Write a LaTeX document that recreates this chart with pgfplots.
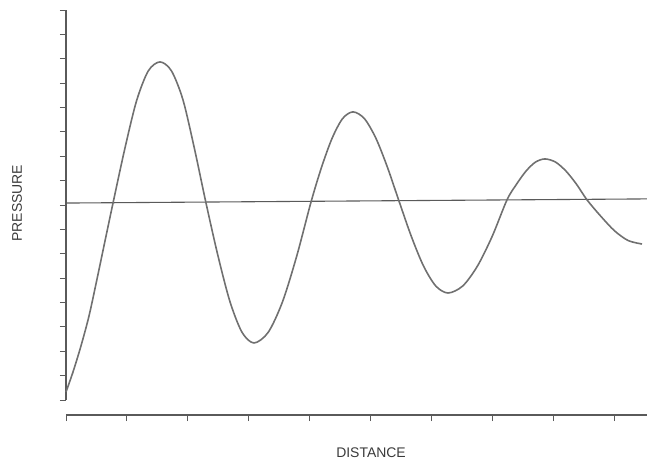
\documentclass[border=0pt]{standalone}
\usepackage{fontspec}
\setmainfont{Liberation Sans}
\usepackage{pgfplots}
\pgfplotsset{compat=1.18}

\definecolor{curve}{HTML}{707070}
\definecolor{axisgray}{HTML}{5A5A5A}
\definecolor{textgray}{HTML}{3A3A3A}

\begin{document}
\begin{tikzpicture}
% page frame: axis box sits 66bp from the left and 49bp above the bottom
\path[use as bounding box] (-66bp,-49bp) rectangle (581bp,415bp);
\begin{axis}[
    scale only axis,
    width=581bp, height=405bp,
    xmin=0, xmax=9.54,
    ymin=-8.615, ymax=8.0,
    axis x line=bottom,
    axis y line=left,
    x axis line style={-, axisgray, line width=1.1pt},
    y axis line style={-, axisgray, line width=1.1pt, shorten <=15bp},
    xtick={0,1,...,9},
    ytick={-8,-7,...,8},
    xticklabels={}, yticklabels={},
    tick align=outside,
    major tick length=6bp,
    tick style={axisgray, line width=0.9pt},
    xlabel={DISTANCE},
    ylabel={PRESSURE},
    every axis x label/.style={at={(axis description cs:0.525,-0.094)}, anchor=center},
    every axis y label/.style={at={(axis description cs:-0.084,0.523)}, anchor=center, rotate=90},
    label style={font=\fontsize{14}{16}\selectfont, text=textgray},
    clip=false,
]
% zero line
\addplot[axisgray, line width=1.1pt] coordinates {(0,0.08) (9.54,0.25)};

% damped pressure wave
\addplot[curve, line width=1.6pt, smooth] coordinates {
    (0.000,-7.67) (0.115,-6.85) (0.246,-5.78) (0.378,-4.55) (0.509,-3.04)
    (0.640,-1.48) (0.772,0.08)
    (0.965,2.30) (1.158,4.27) (1.351,5.50) (1.544,5.87)
    (1.732,5.50) (1.921,4.31) (2.110,2.30) (2.299,0.08)
    (2.496,-2.09) (2.693,-3.97) (2.890,-5.22) (3.087,-5.66)
    (3.321,-5.22) (3.555,-3.97) (3.789,-2.09) (4.023,0.12)
    (4.195,1.54) (4.368,2.73) (4.540,3.54) (4.713,3.82)
    (4.901,3.54) (5.090,2.73) (5.279,1.54) (5.468,0.16)
    (5.669,-1.28) (5.870,-2.50) (6.071,-3.32) (6.273,-3.61)
    (6.515,-3.32) (6.757,-2.50) (6.999,-1.28) (7.241,0.21)
    (7.397,0.85) (7.553,1.39) (7.709,1.76) (7.865,1.89)
    (8.038,1.76) (8.210,1.39) (8.383,0.85) (8.555,0.21)
    (8.781,-0.46) (9.007,-1.06) (9.232,-1.46) (9.458,-1.60)
};
\end{axis}
\end{tikzpicture}
\end{document}
